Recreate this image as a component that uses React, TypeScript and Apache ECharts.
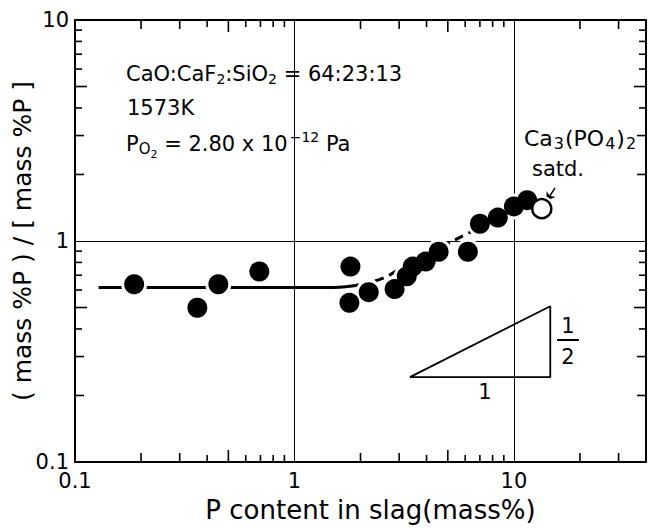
import React, { useEffect, useRef } from 'react';
import * as echarts from 'echarts';

const F = 'DejaVu Sans';

// measured data
const filledX = [0.186, 0.361, 0.45, 0.692, 1.8, 1.78, 2.18, 2.86, 3.25, 3.46, 3.96, 4.54, 6.17, 7.0, 8.45, 10.0, 11.5];
const filledY = [0.637, 0.499, 0.637, 0.728, 0.766, 0.525, 0.587, 0.606, 0.692, 0.766, 0.807, 0.894, 0.894, 1.197, 1.276, 1.434, 1.53];
const openX = [13.4];
const openY = [1.4];

const solidX = [0.128, 1.5, 1.75, 2.0];
const solidY = [0.616, 0.616, 0.622, 0.636];
const dashX = [2.0, 2.5, 3, 4, 5, 6.5, 8, 10, 12];
const dashY = [0.636, 0.675, 0.745, 0.87, 0.975, 1.11, 1.235, 1.38, 1.51];

const triX = [3.36, 14.65, 14.65, 3.36];
const triY = [0.242, 0.242, 0.507, 0.242];

const arrowFrom = [15.4, 1.74];
const arrowTo = [14.1, 1.52];

const xMinor = [0.2, 0.3, 0.4, 0.5, 0.6, 0.7, 0.8, 0.9, 2, 3, 4, 5, 6, 7, 8, 9, 20, 30];
const yMinor = [0.2, 0.3, 0.4, 0.5, 0.6, 0.7, 0.8, 0.9, 2, 3, 4, 5, 6, 7, 8, 9];
const tickLabels = ['0.1', '1', '10'];

const xName = 'P content in slag(mass%)';
const yName = '( mass %P ) / [ mass %P ]';

function tickLen(v: number) {
  const d = Math.round(v / Math.pow(10, Math.floor(Math.log10(v) + 1e-9)));
  if (d === 5) return 12;
  if (d === 2 || d === 3) return 9;
  return 7;
}

export default function App() {
  const ref = useRef<HTMLDivElement>(null);
  useEffect(() => {
    if (!ref.current) return;
    const chart = echarts.init(ref.current, undefined, { renderer: 'svg' });
    const pts = filledX.map((x, i) => [x, filledY[i]]);
    const opens = openX.map((x, i) => [x, openY[i]]);
    const tickData: number[][] = [
      ...xMinor.map((v) => [v, 1, 0, tickLen(v)]),
      ...yMinor.map((v) => [1, v, 1, tickLen(v)]),
    ];
    const labelFmt = (v: number) => {
      const s = v < 1 ? v.toFixed(1) : String(Math.round(v));
      return tickLabels.indexOf(s) >= 0 ? s : '';
    };
    const rich = {
      n: { fontSize: 21, fontFamily: F, fill: '#000', lineHeight: 30 },
      s: { fontSize: 14, fontFamily: F, fill: '#000', padding: [10, 0, 0, 0] },
      ss: { fontSize: 11, fontFamily: F, fill: '#000', padding: [20, 0, 0, 0] },
      so: { fontSize: 15, fontFamily: F, fill: '#000', padding: [10, 0, 0, 0] },
      sup: { fontSize: 14, fontFamily: F, fill: '#000', padding: [0, 0, 14, 2] },
      N: { fontSize: 22, fontFamily: F, fill: '#000', lineHeight: 30 },
      S: { fontSize: 16, fontFamily: F, fill: '#000', padding: [10, 1, 0, 1] },
    };
    const txt = (text: string, x: number, y: number, align = 'left', size = 21) => ({
      type: 'text',
      x,
      y,
      z: 10,
      style: { text, align, verticalAlign: 'middle', font: `${size}px ${F}`, fill: '#000', rich },
    });
    chart.setOption({
      animation: false,
      backgroundColor: '#fff',
      grid: {
        left: 75,
        right: 5,
        top: 20,
        bottom: 67,
        show: true,
        borderColor: '#000',
        borderWidth: 2,
        containLabel: false,
        outerBoundsMode: 'none',
      },
      xAxis: {
        type: 'log',
        logBase: 10,
        min: 0.1,
        max: 40,
        axisLine: { show: false },
        axisTick: { show: false },
        axisLabel: { fontSize: 21, fontFamily: F, color: '#000', margin: 8, formatter: labelFmt, showMaxLabel: false },
        splitLine: { show: true, lineStyle: { color: '#000', width: 1 } },
        name: xName,
        nameLocation: 'middle',
        nameGap: 35,
        nameTextStyle: { fontSize: 26, fontFamily: F, color: '#000', padding: [0, 0, 0, 20] },
      },
      yAxis: {
        type: 'log',
        logBase: 10,
        min: 0.1,
        max: 10,
        axisLine: { show: false },
        axisTick: { show: false },
        axisLabel: { fontSize: 21, fontFamily: F, color: '#000', margin: 6, formatter: labelFmt },
        splitLine: { show: true, lineStyle: { color: '#000', width: 1 } },
        name: yName,
        nameLocation: 'middle',
        nameGap: 40,
        nameMoveOverlap: false,
        nameTextStyle: { fontSize: 25, fontFamily: F, color: '#000' },
      },
      series: [
        {
          type: 'line',
          data: solidX.map((x, i) => [x, solidY[i]]),
          smooth: true,
          symbol: 'none',
          lineStyle: { color: '#000', width: 3 },
          z: 2,
        },
        {
          type: 'line',
          data: dashX.map((x, i) => [x, dashY[i]]),
          smooth: true,
          symbol: 'none',
          lineStyle: { color: '#000', width: 3, type: [9, 6] },
          z: 2,
        },
        {
          type: 'line',
          data: triX.map((x, i) => [x, triY[i]]),
          symbol: 'none',
          lineStyle: { color: '#000', width: 1.8 },
          z: 2,
        },
        {
          type: 'lines',
          coordinateSystem: 'cartesian2d',
          data: [{ coords: [arrowFrom, arrowTo] }],
          symbol: ['none', 'arrow'],
          symbolSize: 8,
          lineStyle: { color: '#000', width: 1.5, opacity: 1 },
          z: 2,
        },
        {
          type: 'scatter',
          data: [...pts, ...opens],
          symbolSize: 26,
          itemStyle: { color: '#fff', opacity: 1 },
          z: 3,
          silent: true,
        },
        {
          type: 'scatter',
          data: pts,
          symbolSize: 20,
          itemStyle: { color: '#000', opacity: 1 },
          z: 4,
        },
        {
          type: 'scatter',
          data: opens,
          symbolSize: 19,
          itemStyle: { color: '#fff', borderColor: '#000', borderWidth: 2.5, opacity: 1 },
          z: 4,
        },
        {
          type: 'custom',
          data: tickData,
          encode: { x: 0, y: 1 },
          z: 6,
          silent: true,
          renderItem: (params: any, api: any) => {
            const cs = params.coordSys;
            const kind = api.value(2);
            const len = api.value(3);
            const st = { stroke: '#000', lineWidth: 1.6 };
            if (kind === 0) {
              const px = api.coord([api.value(0), 1])[0];
              const b = cs.y + cs.height;
              return {
                type: 'group',
                children: [
                  { type: 'line', shape: { x1: px, y1: b, x2: px, y2: b - len }, style: st },
                  { type: 'line', shape: { x1: px, y1: cs.y, x2: px, y2: cs.y + len }, style: st },
                ],
              };
            }
            const py = api.coord([1, api.value(1)])[1];
            const r = cs.x + cs.width;
            return {
              type: 'group',
              children: [
                { type: 'line', shape: { x1: cs.x, y1: py, x2: cs.x + len, y2: py }, style: st },
                { type: 'line', shape: { x1: r, y1: py, x2: r - len, y2: py }, style: st },
              ],
            };
          },
        },
      ],
      graphic: [
        txt('{n|CaO:CaF}{s|2}{n|:SiO}{s|2}{n| = 64:23:13}', 126, 74),
        txt('{n|1573K}', 127, 108),
        txt('{n|P}{so|O}{ss|2}{n| = 2.80 x 10}{sup|−12}{n| Pa}', 126, 144),
        txt('{N|Ca}{S|3}{N|(PO}{S|4}{N|)}{S|2}', 524, 138),
        txt('{n|satd.}', 532, 169),
        txt('{n|1}', 485, 392, 'center'),
        txt('{n|1}', 568, 326, 'center'),
        txt('{n|2}', 568, 357, 'center'),
        { type: 'line', z: 10, shape: { x1: 557, y1: 340, x2: 579, y2: 340 }, style: { stroke: '#000', lineWidth: 2 } },
      ],
    });
    return () => chart.dispose();
  }, []);
  return (
    <div
      ref={ref}
      style={{ position: 'absolute', left: 0, top: 0, width: 651, height: 529, background: '#fff' }}
    />
  );
}
